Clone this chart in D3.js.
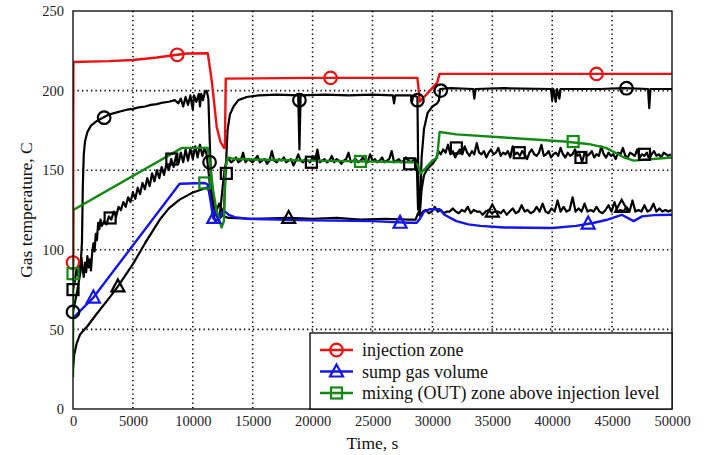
<!DOCTYPE html>
<html><head><meta charset="utf-8">
<script src="https://cdn.jsdelivr.net/npm/d3@7"></script>
</head><body style="margin:0;background:#fff"><svg id="c" width="705" height="455"></svg>
<script>
// ---------- data ----------
const xTicks = [0,5000,10000,15000,20000,25000,30000,35000,40000,45000,50000];
const yTicks = [0,50,100,150,200,250];
const legendLabels = ["injection zone","sump gas volume","mixing (OUT) zone above injection level"];

// simulation: injection zone (red)
const simInj = [[0,92],[30,218],[3000,218.5],[5000,219.2],[7000,220.8],[8700,222.5],[9500,223.3],[11250,223.5],[11600,205],[12000,177],[12300,168],[12600,164],[12680,164],[12750,207.5],[20000,208],[28750,208],[28950,193],[30400,205],[30600,210.5],[40000,210.5],[50000,210.5]];
// simulation: sump gas volume (blue)
const simSump = [[0,57],[1700,70],[8900,141.5],[11000,142],[11250,141],[11500,130],[11700,120],[11900,118],[12200,120],[12500,124],[12700,124],[13000,122],[13500,120.5],[14500,119.5],[17000,119],[20000,118.5],[25000,118],[28000,117],[28700,117],[29000,120],[29300,124],[29800,125.5],[30600,125.5],[31000,122],[32000,118],[33000,116],[34000,115],[36000,114],[40000,113.7],[42000,115],[43500,117],[44500,118.7],[45800,122],[46800,118],[47500,121],[48500,121.8],[50000,122]];
// simulation: mixing zone (green)
const simMix = [[0,20],[30,125],[9100,164],[11250,164],[11500,150],[11700,137],[12000,124],[12400,114],[12600,118],[12700,150],[12900,158],[13500,157],[20000,156],[28500,155],[28800,153],[29000,148],[29400,151],[30000,156],[30400,158],[30600,174],[32000,172.5],[36000,170.5],[41000,168],[43000,166.5],[44500,164],[46000,158],[46800,156],[50000,158]];

// experiment, injection zone (black, circles)
const expInj = [[0,61],[300,72],[600,85],[750,105],[820,140],[900,160],[1000,168],[1200,174],[1500,178],[2000,181],[2500,183],[3000,185],[3500,186],[4000,187],[4500,188],[5000,188.5],[5500,189.5],[6000,190],[6500,191],[7000,191.5],[7500,192.5],[8000,193],[8500,194],[8800,192],[9000,195],[9200,190],[9400,196],[9600,191],[9800,197],[10000,188],[10100,197],[10300,193],[10500,198],[10600,190],[10700,198],[10850,194],[11000,199],[11150,200],[11300,195],[11450,160],[11600,135],[11800,125],[12000,121],[12300,120],[12600,123],[12750,150],[12900,175],[13100,185],[13400,190],[13800,194],[14500,196],[15500,197],[17000,197.5],[18800,197],[18900,163],[19000,197],[21000,197.5],[23000,197],[25000,197.5],[26700,197],[26800,192],[26900,197],[28200,197],[28300,193],[28400,197],[28750,196],[28850,125],[28950,122],[29100,158],[29300,176],[29600,186],[30000,190],[30400,192],[30550,194],[30650,201],[31500,201.5],[33400,201],[33500,195],[33600,201],[36000,201.5],[39900,201],[40000,194],[40100,201],[40300,193],[40400,201],[40600,195],[40700,201],[44000,201],[46000,201.5],[48000,201],[48100,189],[48200,201],[50000,201]];

// experiment, sump (black, triangles)
const expSumpA = [[0,25],[100,34],[300,41],[600,47],[1200,52],[2000,60],[3000,69.5],[3750,77],[5000,91],[6000,104],[7250,119],[8000,126],[8900,131.5],[10000,136],[10800,138],[11150,139],[11400,137],[11600,128],[11800,122],[12000,125],[12200,129],[12400,126],[12600,121],[13000,120],[15000,119.5],[18000,120],[20000,119.5],[22000,120],[24000,119],[26000,119.5],[28000,119],[28600,119],[28800,123],[29000,121]];
const expSumpB_t0 = 29200, expSumpB_dt = 250;
const expSumpB = [124,125,123,124,127,124,125,123,124,124,126,124,123,125,124,127,123,125,124,124,122,124,125,123,124,124,123,125,122,124,126,123,124,128,124,125,123,124,127,124,129,124,123,126,124,131,124,127,124,125,133,124,126,124,129,124,125,124,127,124,123,125,128,124,130,124,125,124,127,124,131,124,125,124,128,124,125,129,124,126,124,125,124,125];

// experiment, mixing zone (black, squares)
const expMixA = [[0,75],[150,80],[300,88],[400,84],[500,92],[600,86],[700,95],[800,88],[900,83],[1000,92],[1100,86],[1200,96],[1300,89],[1400,94],[1500,87],[1600,98],[1700,104],[1800,99],[1900,110],[2000,106],[2100,117],[2200,113],[2300,119],[2400,115],[2600,118],[2800,116],[3000,121],[3200,119],[3400,124],[3600,121],[3800,127],[4000,125],[4200,130],[4400,127],[4600,133],[4800,130],[5000,136],[5200,132],[5400,139],[5600,135],[5800,142],[6000,138],[6200,145],[6400,140],[6600,148],[6800,143],[7000,150],[7200,145],[7400,152],[7600,147],[7800,154],[8000,150],[8200,157],[8400,152],[8600,159],[8800,154],[9000,161],[9200,155],[9400,163],[9600,156],[9800,164],[10000,157],[10200,165],[10400,158],[10600,166],[10800,159],[11000,164],[11150,160],[11300,150],[11500,135],[11700,122],[11900,118],[12100,119],[12300,125],[12500,140],[12650,150]];
const expMixB_t0 = 12800, expMixB_dt = 200;
const expMixB = [156,157,155,156,158,155,156,161,155,157,156,155,157,159,155,156,157,154,156,162,156,155,157,156,158,155,156,157,153,156,160,156,155,157,156,155,158,156,163,155,156,157,155,156,159,155,157,156,154,156,157,161,155,156,157,155,156,158,156,155,160,156,157,155,156,158,155,156,157,162,155,156,157,155,156,158,156,155,156,157];
const expMixC = [[28700,153],[28800,126],[28950,124],[29100,138],[29300,147],[29600,151],[30000,154],[30300,157]];
const expMixD_t0 = 30500, expMixD_dt = 200;
const expMixD = [162,160,163,161,166,160,162,158,161,163,160,165,161,159,162,160,167,161,160,162,158,161,163,160,161,164,159,161,160,162,158,165,160,161,159,162,160,157,161,163,160,159,161,166,159,160,162,158,160,161,159,164,160,158,161,159,160,163,159,160,155,161,159,160,162,158,160,159,165,160,158,161,159,160,157,161,160,164,159,158,161,160,159,163,158,160,159,161,157,160,162,159,160,158,161,160,159,160];

// marker positions [time, value]
const mkSimInj = [[0,92],[8700,222.5],[21500,208],[43700,210.5]];
const mkSimSump = [[1700,70],[11750,120],[27300,117],[43000,116.5]];
const mkSimMix = [[0,85],[11000,142],[24000,155.5],[41750,168]];
const mkExpInj = [[0,61],[2600,183],[11400,155],[18900,194],[28750,194],[30700,200],[46200,201.5]];
const mkExpSump = [[3750,77],[18000,120],[35000,124],[45800,127]];
const mkExpMix = [[0,75],[3100,120],[8250,157],[12800,148],[19900,155],[28100,154],[32000,164],[37250,161],[42400,158],[47700,160]];

// ---------- chart ----------
const FONT = '"Liberation Serif"';
const svg = d3.select("#c");
const L = 73, R = 672, T = 11, B = 409;
const x = d3.scaleLinear().domain([0,50000]).range([L,R]);
const y = d3.scaleLinear().domain([0,250]).range([B,T]);

const RED="#ee1111", BLUE="#1414ee", GREEN="#138a13", BLK="#000";

// grid
svg.append("g").selectAll("line").data(xTicks.slice(1,-1)).join("line")
  .attr("x1",d=>x(d)).attr("x2",d=>x(d)).attr("y1",T).attr("y2",B)
  .attr("stroke","#000").attr("stroke-width",1.6).attr("stroke-dasharray","1.3,3.2");
svg.append("g").selectAll("line").data(yTicks.slice(1,-1)).join("line")
  .attr("y1",d=>y(d)).attr("y2",d=>y(d)).attr("x1",L).attr("x2",R)
  .attr("stroke","#000").attr("stroke-width",1.6).attr("stroke-dasharray","1.3,3.2");

// axes
const ax = svg.append("g").attr("transform",`translate(0,${B})`)
  .call(d3.axisBottom(x).tickValues(xTicks).tickSize(0).tickPadding(7).tickFormat(d3.format("d")));
const ay = svg.append("g").attr("transform",`translate(${L},0)`)
  .call(d3.axisLeft(y).tickValues(yTicks).tickSize(0).tickPadding(9));
[ax,ay].forEach(g=>{g.attr("font-family",FONT).attr("font-size",14.5);
  g.select(".domain").remove();
  g.selectAll("text").attr("font-family",FONT).attr("font-size",14.5).attr("fill","#222");});

// clip
svg.append("clipPath").attr("id","clip").append("rect").attr("x",L).attr("y",T).attr("width",R-L).attr("height",B-T);
const plot = svg.append("g").attr("clip-path","url(#clip)");

const line = d3.line().x(d=>x(d[0])).y(d=>y(d[1]));
const reg = (t0,dt,vals)=>vals.map((v,i)=>[t0+i*dt,v]);

const expSump = expSumpA.concat(reg(expSumpB_t0,expSumpB_dt,expSumpB));
const expMix = expMixA.concat(reg(expMixB_t0,expMixB_dt,expMixB), expMixC, reg(expMixD_t0,expMixD_dt,expMixD));

[expSump,expMix,expInj].forEach(s=>plot.append("path").attr("d",line(s)).attr("fill","none")
  .attr("stroke",BLK).attr("stroke-width",2.2).attr("stroke-linejoin","round"));
[[simSump,BLUE],[simMix,GREEN],[simInj,RED]].forEach(([s,c])=>plot.append("path").attr("d",line(s))
  .attr("fill","none").attr("stroke",c).attr("stroke-width",2.4).attr("stroke-linejoin","round"));

// markers
function marker(g,type,cx,cy,color){
  if(type==="circle") g.append("circle").attr("cx",cx).attr("cy",cy).attr("r",6.3)
      .attr("fill","none").attr("stroke",color).attr("stroke-width",2.2);
  else if(type==="square") g.append("rect").attr("x",cx-5.5).attr("y",cy-5.5).attr("width",11).attr("height",11)
      .attr("fill","none").attr("stroke",color).attr("stroke-width",2.2);
  else g.append("path").attr("d",`M${cx},${cy-7}L${cx+6.5},${cy+5}L${cx-6.5},${cy+5}Z`)
      .attr("fill","none").attr("stroke",color).attr("stroke-width",2.2);
}
const mg = svg.append("g");
[[mkExpInj,"circle",BLK],[mkExpSump,"tri",BLK],[mkExpMix,"square",BLK],
 [mkSimInj,"circle",RED],[mkSimSump,"tri",BLUE],[mkSimMix,"square",GREEN]].forEach(([arr,t,c])=>
  arr.forEach(d=>marker(mg,t,x(d[0]),y(d[1]),c)));

// frame
svg.append("rect").attr("x",L).attr("y",T).attr("width",R-L).attr("height",B-T)
  .attr("fill","none").attr("stroke","#000").attr("stroke-width",1.3);

// legend
const lg = svg.append("g");
lg.append("rect").attr("x",310).attr("y",333).attr("width",R-310).attr("height",B-333)
  .attr("fill","#fff").attr("stroke","#000").attr("stroke-width",1.3);
const legItems = [[RED,"circle"],[BLUE,"tri"],[GREEN,"square"]];
legItems.forEach(([c,t],i)=>{
  const cy = 350 + i*21.5;
  lg.append("line").attr("x1",320).attr("x2",353).attr("y1",cy).attr("y2",cy).attr("stroke",c).attr("stroke-width",2.3);
  marker(lg,t,336.5,cy,c);
  lg.append("text").attr("x",362).attr("y",cy+6).attr("font-size",18).attr("font-family",FONT).attr("fill","#111").text(legendLabels[i]);
});

// titles
svg.append("text").attr("x",(L+R)/2).attr("y",449).attr("text-anchor","middle").attr("font-size",17.5).attr("font-family",FONT).attr("fill","#111").text("Time, s");
svg.append("text").attr("transform","translate(32,210) rotate(-90)").attr("text-anchor","middle").attr("font-size",17.5).attr("font-family",FONT).attr("fill","#111").text("Gas temperature, C");
</script></body></html>
